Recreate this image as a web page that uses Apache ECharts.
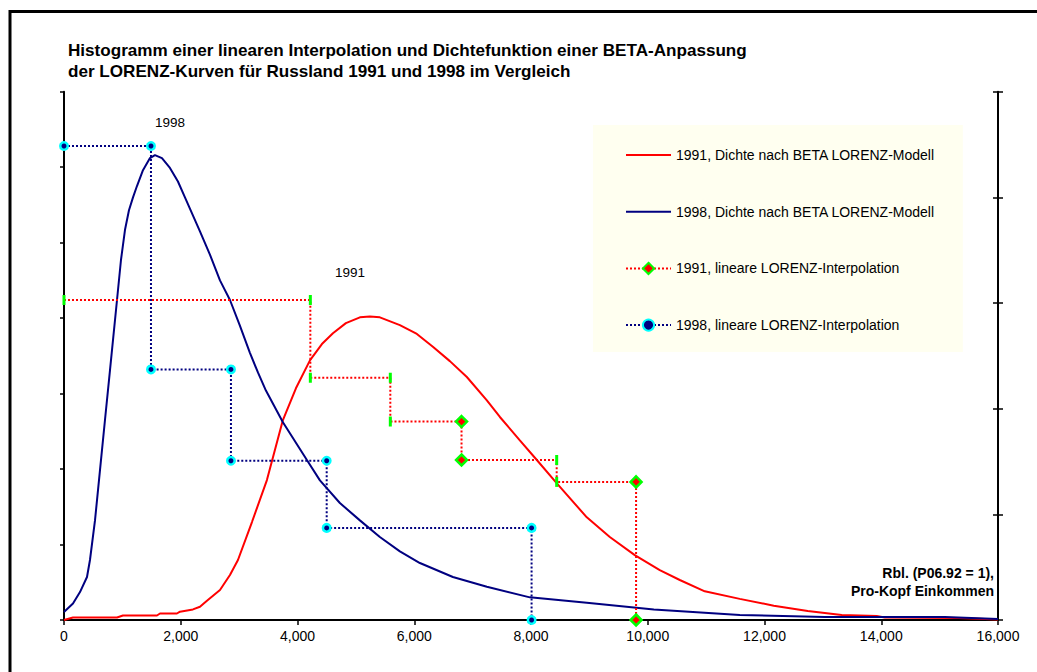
<!DOCTYPE html>
<html><head><meta charset="utf-8">
<script src="https://cdn.jsdelivr.net/npm/echarts@6/dist/echarts.min.js"></script>
<style>html,body{margin:0;padding:0;background:#fff}#c{width:1037px;height:672px}</style>
</head><body><div id="c"></div>
<script>
// ---------- data (x in Rbl, y in left-axis units) ----------
const titleLines = ["Histogramm einer linearen Interpolation und Dichtefunktion einer BETA-Anpassung",
                    "der LORENZ-Kurven für Russland 1991 und 1998 im Vergleich"];
const seriesNames = ["1991, Dichte nach BETA LORENZ-Modell", "1998, Dichte nach BETA LORENZ-Modell",
                     "1991, lineare LORENZ-Interpolation", "1998, lineare LORENZ-Interpolation"];
const xTicks = {min: 0, max: 16000, interval: 2000};

const dens91X = [0,154,908,1010,1593,1644,1935,1987,2209,2329,2449,2672,2843,2980,3220,3476,3750,3973,4213,4418,4607,4829,5069,5240,5411,5754,6045,6319,6610,6901,7244,7467,7809,8100,8443,8956,9350,9778,10206,10549,10977,11576,12159,12741,13323,13923,14060,15327,16000];
const dens91Y = [0,0.033,0.033,0.06,0.06,0.086,0.086,0.11,0.14,0.176,0.256,0.397,0.596,0.795,1.298,1.854,2.649,3.07,3.44,3.656,3.80,3.934,4.01,4.02,4.01,3.907,3.79,3.62,3.43,3.22,2.91,2.69,2.38,2.12,1.81,1.36,1.10,0.86,0.66,0.53,0.38,0.28,0.19,0.12,0.066,0.053,0.033,0.026,0.007];

const dens98X = [0,154,274,394,445,531,617,702,788,908,976,1045,1113,1182,1250,1353,1473,1558,1678,1815,1952,2072,2329,2500,2672,2843,3013,3185,3322,3459,3750,4161,4384,4726,5069,5411,5754,6097,6662,7244,7980,8956,10104,11577,13032,15087,16000];
const dens98Y = [0.106,0.219,0.37,0.57,0.795,1.32,1.99,2.65,3.31,4.24,4.77,5.17,5.43,5.60,5.75,5.96,6.12,6.16,6.12,5.99,5.81,5.60,5.15,4.84,4.50,4.24,3.90,3.54,3.28,3.04,2.62,2.12,1.85,1.55,1.32,1.10,0.91,0.755,0.57,0.44,0.30,0.23,0.14,0.066,0.04,0.04,0.013];

// histogram (linear LORENZ interpolation): class edges and heights
const hist91Edges = [0,4220,5590,6810,8440,9800];
const hist91Heights = [4.24,3.21,2.63,2.12,1.83];
const hist98Edges = [0,1490,2860,4500,8010];
const hist98Heights = [6.28,3.32,2.11,1.22];

// ---------- styles ----------
const FONT = 'Arial, "Liberation Sans", sans-serif';
const RED = '#FF0000', NAVY = '#000080', GREEN = '#00FF00', CYAN = '#00FFFF';
const marker91Kinds = ['bar','bar','bar','bar','bar','diamond','diamond','bar','bar','diamond','diamond'];

function zip(xs, ys){ return xs.map((x,i)=>[x, ys[i]]); }
function steps(edges, heights){
  const pts = [];
  for (let i = 0; i < heights.length; i++){
    pts.push([edges[i], heights[i]]);
    pts.push([edges[i+1], heights[i]]);
  }
  pts.push([edges[edges.length-1], 0]);
  return pts;
}
const step91 = steps(hist91Edges, hist91Heights).map((p,i)=>{
  if (marker91Kinds[i] === 'bar') {
    return {value: p, symbol: 'rect', symbolSize: [3, 10], itemStyle: {color: GREEN, borderWidth: 0}};
  }
  return {value: p};
});
const step98 = steps(hist98Edges, hist98Heights);

const chart = echarts.init(document.getElementById('c'), null, {renderer: 'svg'});
chart.setOption({
  animation: false,
  backgroundColor: '#fff',
  title: {
    text: titleLines.join('\n'),
    left: 68, top: 40, padding: 0,
    textStyle: {fontFamily: FONT, fontSize: 17.1, fontWeight: 'bold', color: '#000', lineHeight: 21.3}
  },
  legend: {
    orient: 'vertical', left: 593, top: 125,
    padding: [23, 28, 20, 32],
    backgroundColor: '#FFFFF0',
    itemWidth: 45, itemHeight: 14, itemGap: 42.7,
    textStyle: {fontFamily: FONT, fontSize: 14, color: '#000'},
    data: [
      {name: seriesNames[0], itemStyle: {opacity: 0}},
      {name: seriesNames[1], itemStyle: {opacity: 0}},
      {name: seriesNames[2]},
      {name: seriesNames[3]}
    ]
  },
  grid: {left: 64, right: 39, top: 91.7, bottom: 52, containLabel: false},
  xAxis: {
    type: 'value', min: xTicks.min, max: xTicks.max, interval: xTicks.interval,
    axisLine: {show: true, onZero: false, lineStyle: {color: '#000', width: 2}},
    axisTick: {show: true, inside: false, length: 5, lineStyle: {color: '#000', width: 1.5}},
    axisLabel: {fontFamily: FONT, fontSize: 14, color: '#000', margin: 9,
      formatter: v => v.toLocaleString('en-US')},
    splitLine: {show: false}
  },
  yAxis: [
    {type: 'value', min: 0, max: 7, interval: 1, position: 'left',
      axisLine: {show: true, lineStyle: {color: '#000', width: 2}},
      axisTick: {show: true, inside: false, length: 4, lineStyle: {color: '#000', width: 1.5}},
      axisLabel: {show: false}, splitLine: {show: false}},
    {type: 'value', min: 0, max: 5, interval: 1, position: 'right',
      axisLine: {show: true, lineStyle: {color: '#000', width: 2}},
      axisTick: {show: true, inside: false, length: 5, lineStyle: {color: '#000', width: 1.5}},
      axisLabel: {show: false}, splitLine: {show: false}},
    {type: 'value', min: 0, max: 5, interval: 1, position: 'right',
      axisLine: {show: false},
      axisTick: {show: true, inside: true, length: 5, lineStyle: {color: '#000', width: 1.5}},
      axisLabel: {show: false}, splitLine: {show: false}}
  ],
  series: [
    {name: seriesNames[0], type: 'line', data: zip(dens91X, dens91Y), symbol: 'none', smooth: false,
      lineStyle: {color: RED, width: 2}, itemStyle: {color: RED}, z: 2},
    {name: seriesNames[1], type: 'line', data: zip(dens98X, dens98Y), symbol: 'none', smooth: false,
      lineStyle: {color: NAVY, width: 2}, itemStyle: {color: NAVY}, z: 2},
    {name: seriesNames[2], type: 'line', data: step91, clip: false,
      symbol: 'diamond', symbolSize: 11,
      lineStyle: {color: RED, width: 2, type: [2, 2]},
      itemStyle: {color: RED, borderColor: GREEN, borderWidth: 2.5}, z: 3},
    {name: seriesNames[3], type: 'line', data: step98, clip: false,
      symbol: 'circle', symbolSize: 7.5,
      lineStyle: {color: NAVY, width: 2, type: [2, 2]},
      itemStyle: {color: NAVY, borderColor: CYAN, borderWidth: 2.5}, z: 3}
  ],
  graphic: [
    {type: 'rect', shape: {x: 10, y: 11.5, width: 1200, height: 1000}, silent: true,
      style: {fill: 'none', stroke: '#000', lineWidth: 3}, z: -1},
    {type: 'text', x: 170, y: 122, silent: true,
      style: {text: '1998', font: '13.5px ' + FONT, fill: '#000', textAlign: 'center', textVerticalAlign: 'middle'}},
    {type: 'text', x: 350, y: 272, silent: true,
      style: {text: '1991', font: '13.5px ' + FONT, fill: '#000', textAlign: 'center', textVerticalAlign: 'middle'}},
    {type: 'text', x: 994, y: 573, silent: true,
      style: {text: 'Rbl. (P06.92 = 1),', font: 'bold 14px ' + FONT, fill: '#000', textAlign: 'right', textVerticalAlign: 'middle'}},
    {type: 'text', x: 994, y: 591, silent: true,
      style: {text: 'Pro-Kopf Einkommen', font: 'bold 14px ' + FONT, fill: '#000', textAlign: 'right', textVerticalAlign: 'middle'}}
  ]
});
</script>
</body></html>
